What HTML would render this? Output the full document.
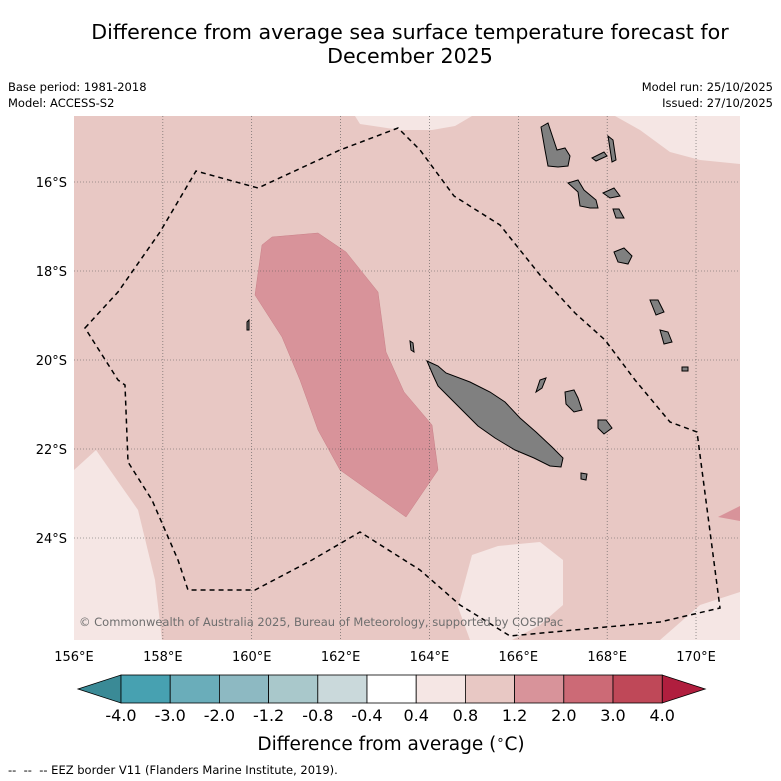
<!DOCTYPE html>
<html><head><meta charset="utf-8"><style>
body{margin:0;background:#fff;}
svg{display:block;font-family:"DejaVu Sans","Liberation Sans",sans-serif;}
</style></head><body>
<svg id="chart" width="781" height="781" viewBox="0 0 781 781">
<text x="410" y="39" font-size="20.6" text-anchor="middle">Difference from average sea surface temperature forecast for</text>
<text x="410" y="63" font-size="20.6" text-anchor="middle">December 2025</text>
<text x="8" y="91" font-size="11.5">Base period: 1981-2018</text>
<text x="8" y="107" font-size="11.5">Model: ACCESS-S2</text>
<text x="773" y="91" font-size="11.5" text-anchor="end">Model run: 25/10/2025</text>
<text x="773" y="107" font-size="11.5" text-anchor="end">Issued: 27/10/2025</text>
<defs><clipPath id="mapclip"><rect x="74" y="116" width="666" height="524"/></clipPath></defs>
<g clip-path="url(#mapclip)">
<rect x="74" y="116" width="666" height="524" fill="#e8c8c4"/>
<path d="M262,245 L272,237 L318,233 L346,252 L378,292 L386,352 L404,392 L432,425 L438,470 L406,517 L340,470 L318,430 L300,380 L282,337 L255,295 Z" fill="#d8939a" stroke="#c98088" stroke-width="0.5"/>
<path d="M718,517 L740,506 L740,521 Z" fill="#d8939a"/>
<path d="M74,470 L96,450 L138,510 L155,580 L162,640 L74,640 Z" fill="#f5e6e4"/>
<path d="M458,607 L472,555 L498,546 L540,542 L563,560 L563,605 L540,625 L512,640 L470,640 Z" fill="#f5e6e4"/>
<path d="M660,640 L700,605 L740,592 L740,640 Z" fill="#f5e6e4"/>
<path d="M355,116 L360,124 L400,130 L432,130 L455,126 L472,116 Z" fill="#f5e6e4"/>
<path d="M615,116 L640,130 L670,152 L700,160 L740,164 L740,116 Z" fill="#f5e6e4"/>
<g id="grid"></g>
<g fill="#808080" stroke="#000" stroke-width="1">
<path d="M427,361 L438,366 L446,373 L470,382 L490,392 L505,402 L520,418 L536,432 L552,447 L563,458 L561,467 L550,466 L534,458 L515,450 L495,438 L478,426 L462,410 L448,396 L438,386 L433,375 Z"/>
<path d="M565,392 L574,390 L578,398 L582,410 L574,412 L566,404 Z"/>
<path d="M598,420 L606,420 L612,428 L604,434 L598,428 Z"/>
<path d="M540,380 L546,378 L542,388 L536,392 Z"/>
<path d="M581,473 L587,474 L586,480 L581,479 Z"/>
<path d="M541,127 L548,123 L553,138 L557,150 L565,148 L570,156 L568,166 L558,167 L548,166 L545,150 Z"/>
<path d="M592,158 L604,152 L607,156 L596,161 Z"/>
<path d="M608,136 L613,140 L616,160 L612,162 Z"/>
<path d="M568,183 L578,180 L584,190 L596,200 L598,208 L590,208 L580,206 L578,192 Z"/>
<path d="M603,193 L614,188 L620,196 L610,198 Z"/>
<path d="M613,209 L619,209 L624,218 L616,218 Z"/>
<path d="M614,252 L624,248 L632,256 L628,264 L618,262 Z"/>
<path d="M650,300 L658,300 L664,312 L656,315 Z"/>
<path d="M660,330 L668,332 L672,342 L664,344 Z"/>
<path d="M682,367 L688,367 L688,371 L682,371 Z"/>
<path d="M247,322 L249,320 L249,330 L247,330 Z"/>
<path d="M410,341 L413,343 L414,352 L411,350 Z"/>
</g>
<path d="M85,328 L118,292 L160,232 L196,171 L258,188 L340,150 L398,128 L420,150 L454,196 L500,225 L540,275 L575,313 L605,340 L635,380 L670,422 L697,432 L720,608 L660,622 L510,636 L460,605 L420,570 L360,532 L312,560 L255,590 L188,590 L178,560 L152,500 L128,462 L125,385 L118,380 Z" fill="none" stroke="#000" stroke-width="1.5" stroke-dasharray="5,4"/>
<text x="79" y="626" font-size="11.5" fill="#6e6e6e">© Commonwealth of Australia 2025, Bureau of Meteorology, supported by COSPPac</text>
</g>
<g id="axes"></g>
<g id="colorbar"></g>
<text x="391" y="750" font-size="18.5" text-anchor="middle">Difference from average (<tspan font-size="13" dy="-6">∘</tspan><tspan dy="6">C)</tspan></text>
<text x="8" y="774" font-size="11.5" style="white-space:pre">--  --  -- EEZ border V11 (Flanders Marine Institute, 2019).</text>
</svg>
<script>
const lonTicks=[156,158,160,162,164,166,168,170];
const latTicks=[16,18,20,22,24];
const cbLabels=["-4.0","-3.0","-2.0","-1.2","-0.8","-0.4","0.4","0.8","1.2","2.0","3.0","4.0"];
const cbColors=["#47a1b1","#6aadba","#8db9c2","#a9c8cb","#cad9db","#ffffff","#f5e6e4","#e8c8c4","#d8939a","#cc6a76","#bf4858"];
const extLow="#3a8a96", extHigh="#b01e3e";
const NS="http://www.w3.org/2000/svg";
const xLon=l=>74+(l-156)*44.43;
const yLat=l=>182+(l-16)*44.5;
const grid=document.getElementById('grid'), axes=document.getElementById('axes'), cb=document.getElementById('colorbar');
function mk(tag,attrs,parent){const e=document.createElementNS(NS,tag);for(const k in attrs)e.setAttribute(k,attrs[k]);parent.appendChild(e);return e;}
lonTicks.forEach(l=>{
  const x=xLon(l);
  if(l>156){const g=mk('line',{x1:x,x2:x,y1:116,y2:640,stroke:'#555','stroke-width':0.6,'stroke-dasharray':'1,2'},grid);
  
  }
  const t=mk('text',{x:x,y:661,'font-size':13,'text-anchor':'middle'},axes);
  
  
  t.textContent=l+'°E';
});
latTicks.forEach(l=>{
  const y=yLat(l);
  const g=mk('line',{x1:74,x2:740,y1:y,y2:y,stroke:'#555','stroke-width':0.6,'stroke-dasharray':'1,2'},grid);
  
  
  const t=mk('text',{x:67,y:y+5,'font-size':13,'text-anchor':'end'},axes);
  
  
  t.textContent=l+'°S';
});
const cbX0=121, cbW=49.2, cbY=675, cbH=28;
const n=cbColors.length;
const lo=mk('polygon',{points:`${cbX0},${cbY} ${cbX0},${cbY+cbH} 78,${cbY+cbH/2}`,fill:extLow,stroke:'#000','stroke-width':0.8},cb);


const hiX=cbX0+n*cbW;
const hi=mk('polygon',{points:`${hiX},${cbY} ${hiX},${cbY+cbH} ${hiX+43},${cbY+cbH/2}`,fill:extHigh,stroke:'#000','stroke-width':0.8},cb);


cbColors.forEach((c,i)=>{
  const r=mk('rect',{x:cbX0+i*cbW,y:cbY,width:cbW,height:cbH,fill:c,stroke:'#000','stroke-width':0.8},cb);
  
  
});
cbLabels.forEach((s,i)=>{
  const t=mk('text',{x:cbX0+i*cbW,y:721,'font-size':16,'text-anchor':'middle'},cb);
  
  
  t.textContent=s;
});
</script>
</body></html>
